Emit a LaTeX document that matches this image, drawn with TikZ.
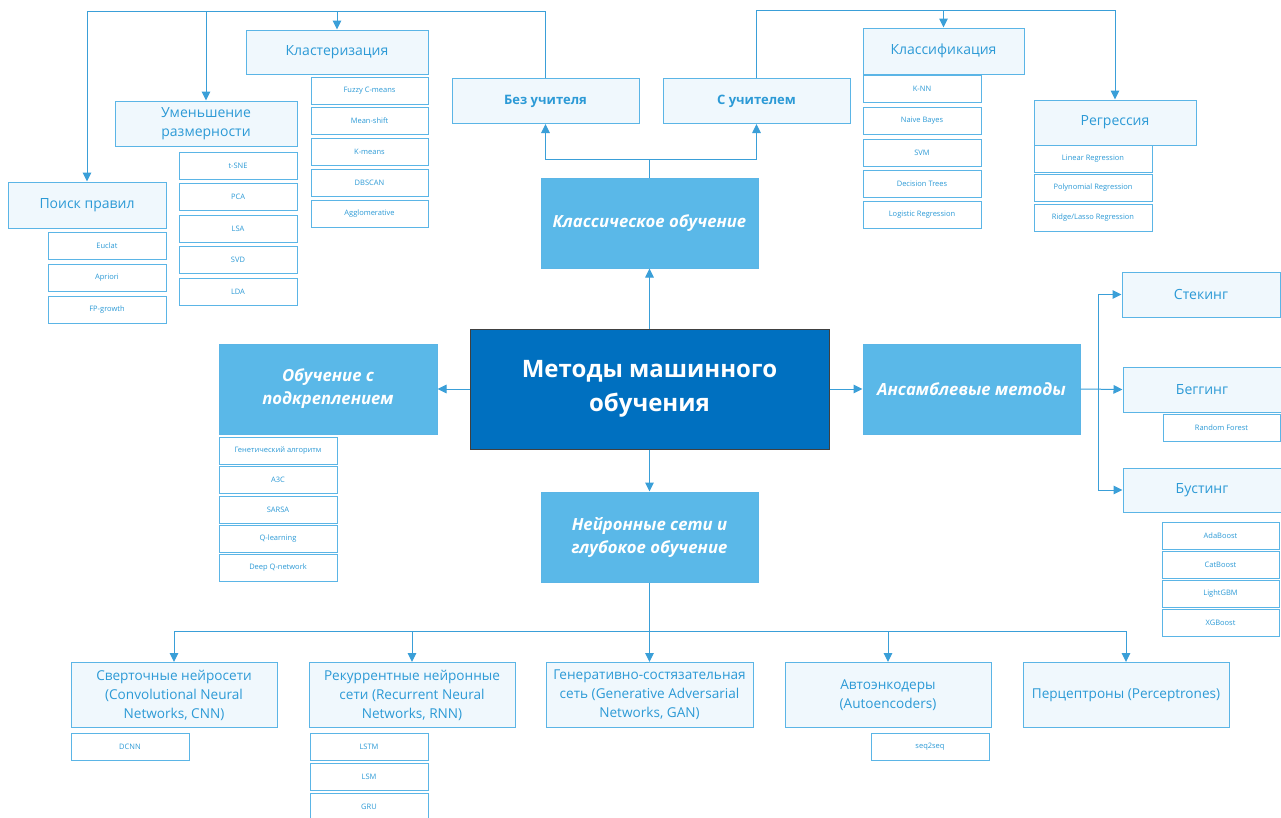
\documentclass[tikz,border=0pt]{standalone}
\usepackage{fontspec}
\setmainfont{Open Sans}
\usepackage{tikz}
\usetikzlibrary{arrows.meta,positioning,calc}

\definecolor{lineblue}{HTML}{3A9FD8}
\definecolor{lightfill}{HTML}{F0F8FD}
\definecolor{lightdraw}{HTML}{5BB5E6}
\definecolor{textblue}{HTML}{2C9AD6}
\definecolor{midblue}{HTML}{5AB8E8}
\definecolor{darkblue}{HTML}{0070C0}

\begin{document}
\begin{tikzpicture}[
      x=1pt, y=-1pt,
      topic/.style={draw=lightdraw, fill=lightfill, line width=1pt, text=textblue,
                    align=center, inner sep=0pt, font=\fontsize{14}{19}\selectfont},
      nettopic/.style={topic, minimum width=206, minimum height=65,
                       font=\fontsize{13.6}{19}\selectfont},
      item/.style={draw=lightdraw, fill=white, line width=1pt, text=textblue,
                   inner sep=0pt, minimum width=118, minimum height=27,
                   font=\fontsize{7.5}{9}\selectfont},
      branch/.style={draw=lightdraw, fill=midblue, text=white, line width=1pt,
                     align=center, inner sep=0pt, minimum width=217, minimum height=90,
                     font=\fontsize{16.7}{23}\selectfont\bfseries\itshape},
      root/.style={draw=black!75, fill=darkblue, text=white, line width=1pt,
                   align=center, inner sep=0pt, minimum width=359, minimum height=120,
                   font=\fontsize{24}{34}\selectfont\bfseries},
      link/.style={draw=lineblue, line width=1pt},
      arr/.style={link, -{Triangle[length=9pt,width=8.5pt]}}]

    \fill[white] (0,0) rectangle (1281,817);
    \useasboundingbox (0,0) rectangle (1281,817);

    % centre and the four main branches
    \node[root] (ml) at (649.5,389) {Методы машинного\\обучения};
    \node[branch] (classic) at (649.5,223) {Классическое обучение};
    \node[branch, minimum width=218] (rl) at (328,389) {Обучение с\\подкреплением};
    \node[branch] (ens) at (971.5,389) {Ансамблевые методы};
    \node[branch] (neur) at (649.5,537) {Нейронные сети и\\глубокое обучение};

    \draw[arr] (ml.north) -- (classic.south);
    \draw[arr] (ml.west) -- (rl.east);
    \draw[arr] (ml.east) -- (ens.west);
    \draw[arr] (ml.south) -- (neur.north);

    % classical learning
    \node[topic, minimum width=187, minimum height=45, font=\fontsize{13}{16}\selectfont\bfseries]
      (unsup) at (545.5,101) {Без учителя};
    \node[topic, minimum width=187, minimum height=45, font=\fontsize{13}{16}\selectfont\bfseries]
      (sup) at (756.5,101) {С учителем};
    \coordinate (clsplit) at (649.5,159);
    \draw[link] (classic.north) -- (clsplit);
    \draw[arr] (clsplit) -| (unsup.south);
    \draw[arr] (clsplit) -| (sup.south);

    % without a teacher
    \node[topic, minimum width=182, minimum height=44] (clust) at (337,52) {Кластеризация};
    \node[topic, minimum width=182, minimum height=45] (dimred) at (206,123.5)
      {Уменьшение\\размерности};
    \node[topic, minimum width=158, minimum height=46] (rules) at (87,205) {Поиск правил};
    \coordinate (ubus) at (0,11);
    \draw[link] (unsup.north) |- (rules.north |- ubus);
    \draw[arr] (rules.north |- ubus) -- (rules.north);
    \draw[arr] (dimred.north |- ubus) -- (dimred.north);
    \draw[arr] (clust.north |- ubus) -- (clust.north);

    \node[item, minimum width=117] (fcm) at (369.5,91) {Fuzzy C-means};
    \node[item, minimum width=117] (mshift) at (369.5,120.5) {Mean-shift};
    \node[item, minimum width=117] (kmeans) at (369.5,151.5) {K-means};
    \node[item, minimum width=117] (dbscan) at (369.5,182.5) {DBSCAN};
    \node[item, minimum width=117] (aggl) at (369.5,213.5) {Agglomerative};

    \node[item] (tsne) at (238,165.5) {t-SNE};
    \node[item] (pca) at (238,196.5) {PCA};
    \node[item] (lsa) at (238,228.5) {LSA};
    \node[item] (svd) at (238,259.5) {SVD};
    \node[item] (lda) at (238,291.5) {LDA};

    \node[item] (eclat) at (107,245.5) {Euclat};
    \node[item] (apriori) at (107,277.5) {Apriori};
    \node[item] (fpg) at (107,309.5) {FP-growth};

    % with a teacher
    \node[topic, minimum width=161, minimum height=46] (classif) at (943.5,51) {Классификация};
    \node[topic, minimum width=162, minimum height=45] (regr) at (1115,122.5) {Регрессия};
    \coordinate (sbus) at (0,10);
    \draw[link] (sup.north) |- (regr.north |- sbus);
    \draw[arr] (classif.north |- sbus) -- (classif.north);
    \draw[arr] (regr.north |- sbus) -- (regr.north);

    \node[item] (knn) at (922,89) {K-NN};
    \node[item] (nbayes) at (922,121) {Naive Bayes};
    \node[item] (svm) at (922,152.5) {SVM};
    \node[item] (dtrees) at (922,183.5) {Decision Trees};
    \node[item] (logreg) at (922,215) {Logistic Regression};

    \node[item] (linreg) at (1093,159) {Linear Regression};
    \node[item] (polyreg) at (1093,188) {Polynomial Regression};
    \node[item] (ridge) at (1093,217.5) {Ridge/Lasso Regression};

    % reinforcement learning
    \node[item] (genetic) at (278,450.5) {Генетический алгоритм};
    \node[item] (athreec) at (278,480) {A3C};
    \node[item] (sarsa) at (278,509.5) {SARSA};
    \node[item] (qlearn) at (278,538.5) {Q-learning};
    \node[item] (dqn) at (278,567.5) {Deep Q-network};

    % ensembles
    \node[topic, minimum width=158, minimum height=45] (stack) at (1201,294.5) {Стекинг};
    \node[topic, minimum width=158, minimum height=45] (bag) at (1202,389.5) {Беггинг};
    \node[topic, minimum width=158, minimum height=44] (boost) at (1202,490) {Бустинг};
    \coordinate (ebus) at (1098,0);
    \draw[link] (ebus |- stack.west) -- (ebus |- boost.west);
    \draw[arr] (ens.east) -- (bag.west);
    \draw[arr] (ebus |- stack.west) -- (stack.west);
    \draw[arr] (ebus |- boost.west) -- (boost.west);

    \node[item, minimum width=117] (rforest) at (1221.5,428) {Random Forest};
    \node[item, minimum width=117] (adaboost) at (1220.5,536) {AdaBoost};
    \node[item, minimum width=117] (catboost) at (1220.5,565) {CatBoost};
    \node[item, minimum width=117] (lightgbm) at (1220.5,594) {LightGBM};
    \node[item, minimum width=117] (xgboost) at (1220.5,622.5) {XGBoost};

    % neural networks
    \node[nettopic] (cnn) at (174,695)
      {Сверточные нейросети\\(Convolutional Neural\\Networks, CNN)};
    \node[nettopic] (rnn) at (412,695)
      {Рекуррентные нейронные\\сети (Recurrent Neural\\Networks, RNN)};
    \node[nettopic, minimum width=207] (gan) at (649.5,695)
      {Генеративно-состязательная\\сеть (Generative Adversarial\\Networks, GAN)};
    \node[nettopic] (autoenc) at (888,695) {Автоэнкодеры\\(Autoencoders)};
    \node[nettopic] (perc) at (1126,695) {Перцептроны (Perceptrones)};
    \coordinate (nbus) at (0,631);
    \draw[link] (neur.south) -- (neur.south |- nbus);
    \draw[link] (cnn.north |- nbus) -- (perc.north |- nbus);
    \draw[arr] (cnn.north |- nbus) -- (cnn.north);
    \draw[arr] (rnn.north |- nbus) -- (rnn.north);
    \draw[arr] (gan.north |- nbus) -- (gan.north);
    \draw[arr] (autoenc.north |- nbus) -- (autoenc.north);
    \draw[arr] (perc.north |- nbus) -- (perc.north);

    \node[item] (dcnn) at (130,747) {DCNN};
    \node[item] (lstm) at (369,747) {LSTM};
    \node[item] (lsm) at (369,776.5) {LSM};
    \node[item] (gru) at (369,806.5) {GRU};
    \node[item] (seqseq) at (930,747) {seq2seq};
  \end{tikzpicture}
\end{document}
